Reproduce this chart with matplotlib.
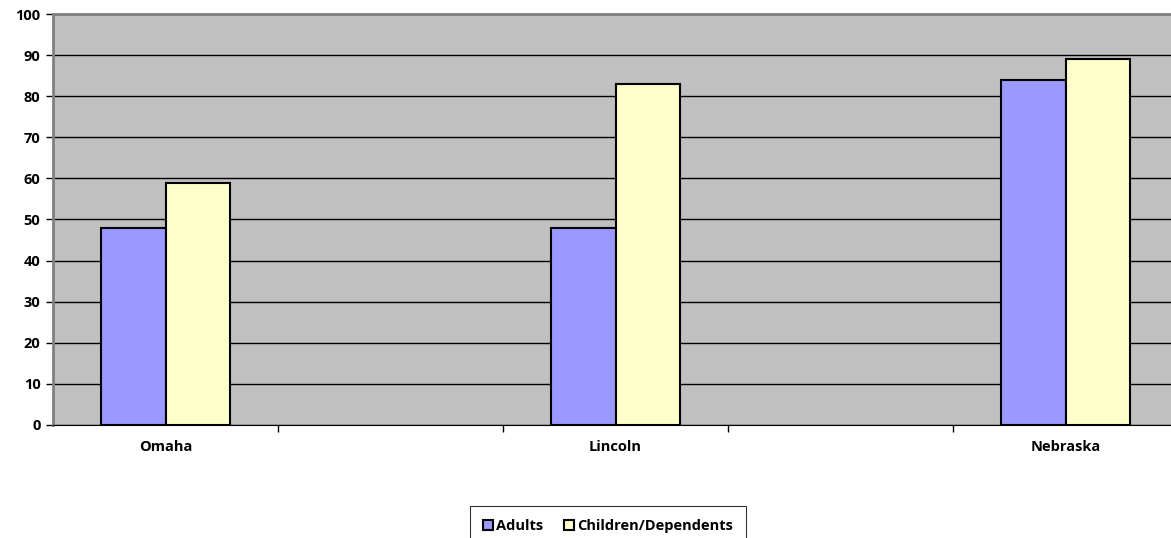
import matplotlib.pyplot as plt
import numpy as np
from matplotlib.ticker import FixedLocator

# Datos
ciudades = ['Omaha', 'Lincoln', 'Nebraska']
adultos = [48, 48, 84]
ninos = [59, 83, 89]
series = ['Adults', 'Children/Dependents']

plt.rcParams['font.family'] = ['Open Sans', 'DejaVu Sans']
plt.rcParams['font.weight'] = 'bold'
tam = 10.5

fig = plt.figure(figsize=(11.71, 5.38), dpi=100)
ax = fig.add_axes([53 / 1171, 113 / 538, 1125 / 1171, 411 / 538])
ax.set_facecolor('#c0c0c0')

# cinco casillas, las ciudades van en las posiciones pares
x = np.arange(len(ciudades)) * 2
ancho = 0.285
ax.bar(x - ancho / 2, adultos, ancho, color='#9999ff', edgecolor='black', linewidth=1.5,
       label=series[0], zorder=3)
ax.bar(x + ancho / 2, ninos, ancho, color='#ffffcc', edgecolor='black', linewidth=1.5,
       label=series[1], zorder=3)

ax.set_xlim(-0.5, 4.5)
ax.set_ylim(0, 100)
ax.set_yticks(range(0, 101, 10))
ax.set_yticklabels([str(v) for v in range(0, 101, 10)], fontsize=tam, fontweight='bold')
ax.yaxis.grid(True, color='black', linewidth=1)
ax.set_axisbelow(True)

ax.set_xticks(x)
ax.set_xticklabels(ciudades, fontsize=tam, fontweight='bold')
ax.xaxis.set_minor_locator(FixedLocator([0.5, 1.5, 2.5, 3.5]))
ax.tick_params(axis='x', which='major', length=0, pad=11)
ax.tick_params(axis='x', which='minor', length=5, width=1, color='black')
ax.tick_params(axis='y', length=5, width=1, pad=4)

ax.spines['top'].set_color('#808080')
ax.spines['top'].set_linewidth(2)
ax.spines['left'].set_color('#808080')
ax.spines['left'].set_linewidth(2)
ax.spines['right'].set_visible(False)
ax.spines['bottom'].set_color('black')

leg = fig.legend(loc='upper center', bbox_to_anchor=(608 / 1171, 1 - 506 / 538), ncol=2,
                 frameon=True, fancybox=False, edgecolor='black',
                 handlelength=0.7, handleheight=0.7, handletextpad=0.2, columnspacing=1.4,
                 borderpad=0.9, borderaxespad=0, prop={'weight': 'bold', 'size': tam})
leg.get_frame().set_linewidth(0.8)

fig.savefig('out.png', dpi=100)
